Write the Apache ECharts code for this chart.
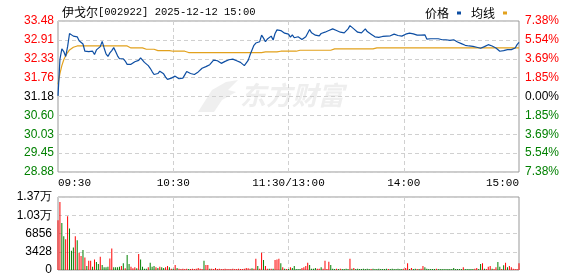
<!DOCTYPE html>
<html><head><meta charset="utf-8">
<script src="https://cdn.jsdelivr.net/npm/echarts@6/dist/echarts.min.js"></script>
<style>html,body{margin:0;padding:0;background:#fff}#c{width:578px;height:276px}</style>
</head><body><div id="c"></div>
<script>
const prevClose = 31.18;
const price = [
31.20,32.31,32.63,32.55,32.40,32.70,33.10,33.10,33.02,33.03,
33.00,32.88,32.83,32.78,32.56,32.58,32.55,32.52,32.56,32.46,
32.60,32.58,32.70,32.86,32.66,32.48,32.40,32.51,32.58,32.67,
32.55,32.42,32.33,32.36,32.33,32.26,32.16,32.20,32.16,32.18,
32.24,32.26,32.28,32.36,32.30,32.22,32.18,32.12,32.04,31.94,
31.85,31.84,31.88,31.95,31.93,31.87,31.77,31.70,31.67,31.74,
31.78,31.80,31.77,31.72,31.67,31.74,31.84,31.94,31.93,31.88,
31.86,31.85,31.86,31.93,31.99,32.04,32.03,32.09,32.07,32.15,
32.22,32.29,32.28,32.27,32.25,32.19,32.21,32.25,32.27,32.30,
32.33,32.32,32.28,32.27,32.25,32.22,32.18,32.12,32.06,32.28,
32.45,32.60,32.74,32.81,32.80,32.85,33.05,32.96,32.85,32.93,
32.98,33.02,32.90,33.10,33.21,33.27,33.19,33.16,33.11,33.05,
33.08,32.99,33.06,32.97,32.94,33.00,32.95,32.92,32.95,33.00,
33.06,33.22,33.12,33.09,33.05,33.01,33.03,33.10,33.12,33.14,
33.17,33.19,33.20,33.24,33.20,33.19,33.13,33.14,33.12,33.12,
33.16,33.24,33.34,33.28,33.24,33.21,33.14,33.14,33.12,33.18,
33.24,33.16,33.12,33.08,33.04,33.00,33.01,32.98,33.01,33.01,
33.03,33.02,33.02,33.03,33.01,33.08,33.02,33.04,33.03,33.02,
33.05,33.08,33.14,33.11,33.11,33.09,33.04,33.05,33.08,33.05,
33.02,33.06,32.93,32.94,32.94,32.94,32.94,32.97,32.94,32.91,
32.91,32.91,32.91,32.91,32.89,32.91,32.91,32.87,32.84,32.82,
32.79,32.74,32.74,32.74,32.72,32.71,32.71,32.69,32.68,32.67,
32.65,32.66,32.70,32.74,32.76,32.76,32.72,32.69,32.66,32.62,
32.56,32.61,32.58,32.61,32.61,32.61,32.61,32.61,32.66,32.76,
32.83];
const avgPrice = [
31.55,31.88,32.12,32.30,32.42,32.52,32.60,32.65,32.68,32.70,
32.72,32.72,32.72,32.72,32.72,32.72,32.72,32.72,32.72,32.72,
32.72,32.72,32.72,32.72,32.72,32.72,32.72,32.72,32.72,32.72,
32.72,32.72,32.72,32.72,32.72,32.72,32.72,32.66,32.66,32.66,
32.66,32.66,32.66,32.66,32.66,32.62,32.62,32.62,32.62,32.62,
32.62,32.62,32.58,32.58,32.58,32.58,32.58,32.58,32.58,32.56,
32.56,32.56,32.56,32.56,32.56,32.56,32.56,32.52,32.52,32.52,
32.52,32.52,32.52,32.52,32.52,32.52,32.52,32.52,32.52,32.52,
32.52,32.52,32.52,32.52,32.52,32.52,32.52,32.52,32.52,32.52,
32.52,32.52,32.52,32.52,32.52,32.52,32.52,32.52,32.52,32.52,
32.52,32.52,32.52,32.52,32.52,32.52,32.52,32.54,32.54,32.54,
32.54,32.54,32.54,32.54,32.54,32.54,32.56,32.56,32.56,32.56,
32.56,32.56,32.56,32.56,32.56,32.56,32.59,32.59,32.59,32.59,
32.59,32.59,32.59,32.59,32.59,32.59,32.59,32.59,32.59,32.59,
32.59,32.59,32.59,32.59,32.63,32.63,32.63,32.63,32.63,32.63,
32.63,32.63,32.63,32.63,32.63,32.63,32.63,32.63,32.63,32.63,
32.63,32.63,32.63,32.63,32.63,32.63,32.66,32.66,32.66,32.66,
32.66,32.66,32.66,32.66,32.66,32.66,32.66,32.66,32.66,32.66,
32.66,32.66,32.66,32.66,32.66,32.66,32.66,32.66,32.66,32.66,
32.66,32.66,32.66,32.66,32.66,32.66,32.66,32.66,32.66,32.66,
32.66,32.66,32.66,32.66,32.66,32.66,32.66,32.66,32.66,32.66,
32.66,32.66,32.66,32.66,32.66,32.66,32.66,32.66,32.66,32.66,
32.66,32.66,32.66,32.66,32.66,32.66,32.66,32.66,32.66,32.66,
32.66,32.66,32.66,32.66,32.66,32.66,32.66,32.66,32.66,32.66,
32.66];
const volume = [
9345,12770,8850,6350,5790,10090,7790,3610,4240,6350,
5600,3240,2620,3740,2370,750,1740,1740,620,1990,
1500,1120,2490,930,500,500,620,2180,4050,500,
500,500,620,750,1250,310,2800,1120,620,310,
500,310,2990,1990,620,250,250,500,1370,620,
750,500,370,620,500,370,500,750,500,250,
250,930,370,250,190,250,190,250,190,190,
250,190,250,370,250,190,1740,930,930,250,
250,190,370,190,250,190,190,250,190,190,
190,250,190,190,250,190,190,250,370,310,
250,310,250,2120,750,250,3240,1870,750,250,
250,250,250,1870,1990,2120,1250,500,250,190,
190,500,370,750,190,190,190,370,500,750,
1370,930,250,250,370,250,250,500,250,1740,
190,1560,930,250,190,250,190,250,190,190,
250,190,2120,250,370,190,250,190,190,250,
190,250,190,190,250,190,190,250,190,190,
190,250,190,190,250,190,190,250,190,190,
250,370,1250,190,370,190,250,190,190,250,
750,500,250,190,190,190,190,250,190,190,
190,190,190,190,190,190,370,190,190,190,
190,500,190,190,190,190,190,250,370,190,
1120,1250,250,190,620,750,250,190,500,1500,
620,190,870,1370,500,750,500,250,190,190,
1250];
const volumeUp = [
1,1,0,0,1,1,0,0,0,1, 0,1,1,0,1,0,1,1,0,1, 0,0,1,0,0,0,0,1,1,0, 0,0,0,1,0,1,0,0,1,1,
1,0,1,0,0,0,0,1,0,0, 0,1,0,1,0,0,1,1,0,1, 0,1,0,1,1,1,1,1,0,1, 1,1,1,1,1,1,0,1,1,0,
1,1,1,1,1,1,1,1,1,1, 1,1,1,1,1,1,1,1,1,1, 1,0,1,1,0,1,1,0,1,1, 0,1,0,1,1,1,0,1,0,1,
0,1,0,0,0,0,0,1,1,1, 1,0,0,0,0,1,1,0,1,1, 1,1,0,0,0,1,0,1,0,0, 0,0,1,0,1,0,0,0,0,0,
0,0,0,1,0,0,0,0,0,0, 0,0,1,0,0,0,0,0,0,0, 1,1,1,0,1,0,0,1,0,1, 1,0,0,0,0,0,0,1,0,0,
0,0,0,0,0,0,0,0,0,0, 0,1,0,0,0,0,0,1,1,0, 0,1,0,1,1,1,0,1,1,0, 0,1,0,1,0,1,1,1,1,1,
1];
const priceTickLabels = ['28.88','29.45','30.03','30.60','31.18','31.76','32.33','32.91','33.48'];
const pctTickLabels = ['7.38%','5.54%','3.69%','1.85%','0.00%','1.85%','3.69%','5.54%','7.38%'];
const volTickLabels = ['0','3428','6856','1.03万','1.37万'];
const timeTickLabels = ['09:30','10:30','11:30/13:00','14:00','15:00'];
const pctMax = 7.38, pctStep = 1.845, volMax = 13712, volStep = 3428;

const times = [];
for (let i = 0; i <= 240; i++) {
  let t = i <= 120 ? 9 * 60 + 30 + i : 13 * 60 + (i - 120);
  times.push(String(Math.floor(t / 60)).padStart(2, '0') + ':' + String(t % 60).padStart(2, '0'));
}
const toPct = p => (p / prevClose - 1) * 100;
const pricePct = price.map(toPct);
const avgPct = avgPrice.map(toPct);
const volData = volume.map((v, i) => ({ value: v, itemStyle: { color: volumeUp[i] ? '#ff0000' : '#008000' } }));

const RED = '#ff0000', GREEN = '#008000', DARK = '#000000';
const tickIdx = v => Math.round((Number(v) + pctMax) / pctStep);
const pctColor = v => { const k = tickIdx(v); return k > 4 ? RED : (k < 4 ? GREEN : DARK); };
const labelFont = '"Liberation Sans", Arial, sans-serif';

const chart = echarts.init(document.getElementById('c'), null, { renderer: 'canvas' });
chart.setOption({
  animation: false,
  backgroundColor: '#fff',
  title: {
    text: '{a|伊戈尔}{b|[002922] 2025-12-12 15:00}',
    left: 57, top: 1,
    textStyle: {
      fontWeight: 'normal',
      rich: {
        a: { fontFamily: '"Noto Sans CJK SC"', fontSize: 12, fontWeight: 'normal', color: '#000' },
        b: { fontFamily: '"Liberation Mono", monospace', fontSize: 10.5, fontWeight: 'normal', color: '#000' }
      }
    }
  },
  legend: {
    data: ['价格', '均线'], right: 66, top: 2, align: 'right', icon: 'rect',
    itemWidth: 4, itemHeight: 3, itemGap: 10,
    textStyle: { fontSize: 12, color: '#000', fontWeight: 'normal', fontFamily: '"Noto Sans CJK SC"', padding: [0, 3, 0, 0] }
  },
  graphic: [
    { type: 'polygon', z: 0, shape: { points: [[198,112],[212,90],[226,82],[238,80],[228,90],[236,92],[222,100],[214,112]] }, style: { fill: '#efefef' } },
    { type: 'text', z: 0, left: 240, top: 82, style: { text: '东方财富', font: 'italic bold 26px "Noto Sans CJK SC"', fill: '#eeeeee' } }
  ],
  grid: [
    { left: 58, right: 59, top: 21, height: 151, show: true, borderColor: '#999', borderWidth: 1, backgroundColor: 'transparent' },
    { left: 58, right: 59, top: 197, height: 73, show: true, borderColor: '#999', borderWidth: 1, backgroundColor: 'transparent' }
  ],
  xAxis: [
    {
      type: 'category', gridIndex: 0, data: times, boundaryGap: false,
      axisLine: { show: false }, axisTick: { show: false },
      axisLabel: {
        interval: (i) => i % 60 === 0, margin: 6,
        formatter: (v, i) => timeTickLabels[Math.round(i / 60)],
        fontFamily: '"Liberation Mono", monospace', fontSize: 11, color: '#000',
        alignMinLabel: 'left', alignMaxLabel: 'right'
      },
      splitLine: { show: true, interval: (i) => i % 60 === 0 && i > 0 && i < 240, lineStyle: { color: '#d0d0d0', type: [4, 3] } }
    },
    {
      type: 'category', gridIndex: 1, data: times, boundaryGap: false,
      axisLine: { show: false }, axisTick: { show: false }, axisLabel: { show: false },
      splitLine: { show: true, interval: (i) => i % 60 === 0 && i > 0 && i < 240, lineStyle: { color: '#d0d0d0', type: [4, 3] } }
    }
  ],
  yAxis: [
    {
      type: 'value', gridIndex: 0, min: -pctMax, max: pctMax, interval: pctStep, position: 'left',
      axisLine: { show: false }, axisTick: { show: false },
      axisLabel: { margin: 4, fontSize: 12, fontFamily: labelFont, color: pctColor, formatter: v => priceTickLabels[tickIdx(v)] },
      splitLine: { show: true, lineStyle: { color: '#d0d0d0', type: [4, 3] } }
    },
    {
      type: 'value', gridIndex: 0, min: -pctMax, max: pctMax, interval: pctStep, position: 'right',
      axisLine: { show: false }, axisTick: { show: false },
      axisLabel: { margin: 6, fontSize: 12, fontFamily: labelFont, color: pctColor, formatter: v => pctTickLabels[8 - tickIdx(v)] },
      splitLine: { show: false }
    },
    {
      type: 'value', gridIndex: 1, min: 0, max: volMax, interval: volStep,
      axisLine: { show: false }, axisTick: { show: false },
      axisLabel: { margin: 6, fontSize: 12, fontFamily: labelFont, color: '#000', formatter: v => volTickLabels[Math.round(v / volStep)] },
      splitLine: { show: true, lineStyle: { color: '#d0d0d0', type: [4, 3] } }
    }
  ],
  series: [
    { name: '价格', type: 'line', xAxisIndex: 0, yAxisIndex: 0, data: pricePct, symbol: 'none', z: 4,
      lineStyle: { color: '#0d4ea3', width: 1.2 }, itemStyle: { color: '#0d4ea3' } },
    { name: '均线', type: 'line', xAxisIndex: 0, yAxisIndex: 0, data: avgPct, symbol: 'none', z: 3,
      lineStyle: { color: '#e2a11d', width: 1.2 }, itemStyle: { color: '#e2a11d' } },
    { name: '成交量', type: 'bar', xAxisIndex: 1, yAxisIndex: 2, data: volData, barWidth: 1 }
  ]
});
</script>
</body></html>
